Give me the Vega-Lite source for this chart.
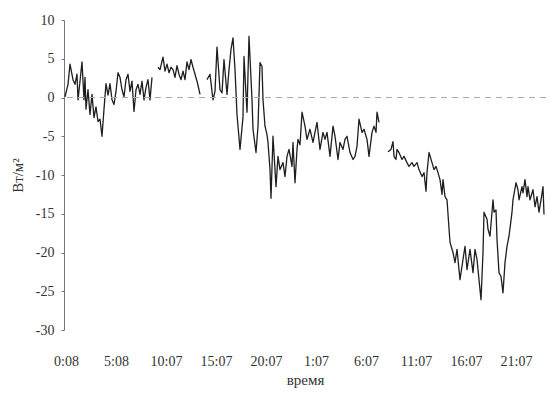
{
  "$schema": "https://vega.github.io/schema/vega-lite/v6.json",
  "width": 482,
  "height": 310,
  "autosize": {"type": "none"},
  "padding": {"left": 64, "top": 20, "right": 4, "bottom": 71},
  "background": "white",
  "config": {
    "view": {"stroke": null},
    "font": "Liberation Serif",
    "axis": {
      "labelFont": "Liberation Serif",
      "titleFont": "Liberation Serif",
      "labelFontSize": 14,
      "titleFontSize": 15,
      "titleFontWeight": "normal",
      "labelColor": "#333",
      "titleColor": "#333",
      "grid": false
    },
    "axisY": {
      "values": [-30, -25, -20, -15, -10, -5, 0, 5, 10],
      "labelExpr": "'' + datum.value",
      "labelOverlap": false,
      "domain": true,
      "domainColor": "#777",
      "tickColor": "#777",
      "tickSize": 3,
      "labelPadding": 7,
      "titlePadding": 10
    }
  },
  "data": {
    "values": [
      {"t": -0.1, "v": 0.1, "s": 1}, {"t": 0.2, "v": 1.7, "s": 1}, {"t": 0.4, "v": 4.3, "s": 1}, {"t": 0.7, "v": 2.3, "s": 1},
      {"t": 0.9, "v": 1.7, "s": 1}, {"t": 1.1, "v": 3.0, "s": 1}, {"t": 1.2, "v": -0.3, "s": 1}, {"t": 1.4, "v": 2.1, "s": 1},
      {"t": 1.6, "v": 4.6, "s": 1}, {"t": 1.8, "v": -0.3, "s": 1}, {"t": 1.9, "v": 2.6, "s": 1}, {"t": 2.0, "v": -1.5, "s": 1},
      {"t": 2.2, "v": 1.0, "s": 1}, {"t": 2.4, "v": -2.2, "s": 1}, {"t": 2.6, "v": 0.4, "s": 1}, {"t": 2.8, "v": -2.6, "s": 1},
      {"t": 3.0, "v": -1.2, "s": 1}, {"t": 3.2, "v": -3.1, "s": 1}, {"t": 3.4, "v": -2.8, "s": 1}, {"t": 3.6, "v": -5.0, "s": 1},
      {"t": 3.8, "v": -1.5, "s": 1}, {"t": 4.0, "v": 1.8, "s": 1}, {"t": 4.2, "v": 0.3, "s": 1}, {"t": 4.4, "v": 1.8, "s": 1},
      {"t": 4.6, "v": -0.3, "s": 1}, {"t": 4.8, "v": -0.9, "s": 1}, {"t": 5.0, "v": 0.8, "s": 1}, {"t": 5.2, "v": 3.2, "s": 1},
      {"t": 5.4, "v": 2.6, "s": 1}, {"t": 5.6, "v": 1.0, "s": 1}, {"t": 5.8, "v": 0.1, "s": 1}, {"t": 6.0, "v": 2.3, "s": 1},
      {"t": 6.2, "v": 3.0, "s": 1}, {"t": 6.4, "v": 0.8, "s": 1}, {"t": 6.6, "v": 2.1, "s": 1}, {"t": 6.8, "v": -1.8, "s": 1},
      {"t": 7.0, "v": 1.0, "s": 1}, {"t": 7.2, "v": 1.7, "s": 1}, {"t": 7.4, "v": 0.4, "s": 1}, {"t": 7.6, "v": 2.1, "s": 1},
      {"t": 7.8, "v": -0.3, "s": 1}, {"t": 8.0, "v": 1.3, "s": 1}, {"t": 8.2, "v": 2.3, "s": 1}, {"t": 8.4, "v": -0.3, "s": 1},
      {"t": 8.6, "v": 2.6, "s": 1},

      {"t": 9.2, "v": 3.9, "s": 2}, {"t": 9.4, "v": 3.6, "s": 2}, {"t": 9.7, "v": 5.2, "s": 2}, {"t": 9.9, "v": 3.4, "s": 2},
      {"t": 10.1, "v": 4.3, "s": 2}, {"t": 10.3, "v": 3.2, "s": 2}, {"t": 10.5, "v": 3.9, "s": 2}, {"t": 10.7, "v": 3.6, "s": 2},
      {"t": 10.9, "v": 2.6, "s": 2}, {"t": 11.1, "v": 4.1, "s": 2}, {"t": 11.3, "v": 3.0, "s": 2}, {"t": 11.5, "v": 2.3, "s": 2},
      {"t": 11.7, "v": 3.4, "s": 2}, {"t": 11.9, "v": 2.3, "s": 2}, {"t": 12.1, "v": 4.6, "s": 2}, {"t": 12.3, "v": 3.6, "s": 2},
      {"t": 12.5, "v": 4.9, "s": 2}, {"t": 12.7, "v": 3.9, "s": 2}, {"t": 12.9, "v": 3.0, "s": 2}, {"t": 13.1, "v": 2.1, "s": 2},
      {"t": 13.3, "v": 1.0, "s": 2}, {"t": 13.4, "v": 0.4, "s": 2},

      {"t": 14.1, "v": 2.3, "s": 3}, {"t": 14.4, "v": 3.0, "s": 3}, {"t": 14.7, "v": -0.3, "s": 3}, {"t": 14.9, "v": 0.8, "s": 3},
      {"t": 15.1, "v": 6.5, "s": 3}, {"t": 15.4, "v": 1.0, "s": 3}, {"t": 15.6, "v": 0.6, "s": 3}, {"t": 15.8, "v": 4.9, "s": 3},
      {"t": 16.1, "v": 0.4, "s": 3}, {"t": 16.3, "v": 3.6, "s": 3}, {"t": 16.5, "v": 6.2, "s": 3}, {"t": 16.7, "v": 7.7, "s": 3},
      {"t": 16.9, "v": 3.6, "s": 3}, {"t": 17.1, "v": -2.2, "s": 3}, {"t": 17.4, "v": -6.7, "s": 3}, {"t": 17.7, "v": -2.5, "s": 3},
      {"t": 17.8, "v": 5.3, "s": 3}, {"t": 18.0, "v": 0.4, "s": 3}, {"t": 18.1, "v": -1.9, "s": 3}, {"t": 18.3, "v": 7.9, "s": 3},
      {"t": 18.6, "v": -0.3, "s": 3}, {"t": 18.7, "v": -4.1, "s": 3}, {"t": 19.0, "v": -7.1, "s": 3}, {"t": 19.2, "v": -3.7, "s": 3},
      {"t": 19.4, "v": 4.5, "s": 3}, {"t": 19.6, "v": 4.0, "s": 3}, {"t": 19.7, "v": -0.3, "s": 3}, {"t": 19.9, "v": -3.7, "s": 3},
      {"t": 20.1, "v": -4.8, "s": 3}, {"t": 20.2, "v": -5.8, "s": 3}, {"t": 20.4, "v": -9.3, "s": 3}, {"t": 20.5, "v": -13.0, "s": 3},
      {"t": 20.7, "v": -5.0, "s": 3}, {"t": 21.0, "v": -11.5, "s": 3}, {"t": 21.2, "v": -7.6, "s": 3}, {"t": 21.4, "v": -9.3, "s": 3},
      {"t": 21.7, "v": -8.4, "s": 3}, {"t": 21.9, "v": -10.2, "s": 3}, {"t": 22.1, "v": -7.6, "s": 3}, {"t": 22.3, "v": -6.7, "s": 3},
      {"t": 22.6, "v": -8.9, "s": 3}, {"t": 22.7, "v": -5.8, "s": 3}, {"t": 22.9, "v": -11.0, "s": 3}, {"t": 23.1, "v": -6.7, "s": 3},
      {"t": 23.2, "v": -5.4, "s": 3}, {"t": 23.4, "v": -6.1, "s": 3}, {"t": 23.6, "v": -1.9, "s": 3}, {"t": 23.9, "v": -3.7, "s": 3},
      {"t": 24.1, "v": -5.4, "s": 3}, {"t": 24.4, "v": -4.1, "s": 3}, {"t": 24.7, "v": -5.8, "s": 3}, {"t": 24.9, "v": -4.5, "s": 3},
      {"t": 25.1, "v": -3.2, "s": 3}, {"t": 25.4, "v": -6.7, "s": 3}, {"t": 25.7, "v": -4.5, "s": 3}, {"t": 25.9, "v": -5.4, "s": 3},
      {"t": 26.1, "v": -4.5, "s": 3}, {"t": 26.4, "v": -7.6, "s": 3}, {"t": 26.7, "v": -3.7, "s": 3}, {"t": 26.9, "v": -5.0, "s": 3},
      {"t": 27.2, "v": -8.0, "s": 3}, {"t": 27.4, "v": -5.8, "s": 3}, {"t": 27.7, "v": -6.7, "s": 3}, {"t": 27.9, "v": -5.4, "s": 3},
      {"t": 28.1, "v": -5.0, "s": 3}, {"t": 28.4, "v": -7.1, "s": 3}, {"t": 28.7, "v": -8.0, "s": 3}, {"t": 28.9, "v": -7.6, "s": 3},
      {"t": 29.1, "v": -6.3, "s": 3}, {"t": 29.3, "v": -2.8, "s": 3}, {"t": 29.6, "v": -4.5, "s": 3}, {"t": 29.8, "v": -4.1, "s": 3},
      {"t": 30.1, "v": -5.4, "s": 3}, {"t": 30.3, "v": -7.6, "s": 3}, {"t": 30.6, "v": -4.5, "s": 3}, {"t": 30.8, "v": -3.7, "s": 3},
      {"t": 31.0, "v": -4.5, "s": 3}, {"t": 31.1, "v": -1.9, "s": 3}, {"t": 31.3, "v": -3.2, "s": 3},

      {"t": 32.2, "v": -7.0, "s": 4}, {"t": 32.5, "v": -6.7, "s": 4}, {"t": 32.7, "v": -5.7, "s": 4}, {"t": 32.8, "v": -7.6, "s": 4},
      {"t": 33.0, "v": -8.0, "s": 4}, {"t": 33.1, "v": -6.7, "s": 4}, {"t": 33.3, "v": -7.1, "s": 4}, {"t": 33.6, "v": -8.0, "s": 4},
      {"t": 33.8, "v": -7.6, "s": 4}, {"t": 34.1, "v": -8.4, "s": 4}, {"t": 34.3, "v": -8.9, "s": 4}, {"t": 34.6, "v": -8.4, "s": 4},
      {"t": 34.8, "v": -8.9, "s": 4}, {"t": 35.1, "v": -8.4, "s": 4}, {"t": 35.3, "v": -9.3, "s": 4}, {"t": 35.6, "v": -10.2, "s": 4},
      {"t": 35.8, "v": -9.7, "s": 4}, {"t": 36.0, "v": -12.1, "s": 4}, {"t": 36.1, "v": -9.7, "s": 4}, {"t": 36.3, "v": -7.1, "s": 4},
      {"t": 36.6, "v": -8.4, "s": 4}, {"t": 36.8, "v": -9.3, "s": 4}, {"t": 37.0, "v": -8.9, "s": 4}, {"t": 37.2, "v": -9.7, "s": 4},
      {"t": 37.4, "v": -10.6, "s": 4}, {"t": 37.6, "v": -12.5, "s": 4}, {"t": 37.7, "v": -10.6, "s": 4}, {"t": 37.9, "v": -12.8, "s": 4},
      {"t": 38.1, "v": -13.2, "s": 4}, {"t": 38.4, "v": -18.7, "s": 4}, {"t": 38.7, "v": -20.0, "s": 4}, {"t": 38.9, "v": -21.3, "s": 4},
      {"t": 39.1, "v": -19.6, "s": 4}, {"t": 39.4, "v": -23.5, "s": 4}, {"t": 39.7, "v": -20.9, "s": 4}, {"t": 39.9, "v": -19.2, "s": 4},
      {"t": 40.1, "v": -22.2, "s": 4}, {"t": 40.4, "v": -19.6, "s": 4}, {"t": 40.7, "v": -22.6, "s": 4}, {"t": 40.9, "v": -19.6, "s": 4},
      {"t": 41.1, "v": -20.9, "s": 4}, {"t": 41.3, "v": -23.5, "s": 4}, {"t": 41.5, "v": -26.1, "s": 4}, {"t": 41.7, "v": -20.0, "s": 4},
      {"t": 41.8, "v": -14.8, "s": 4}, {"t": 42.1, "v": -15.7, "s": 4}, {"t": 42.2, "v": -17.0, "s": 4}, {"t": 42.4, "v": -17.9, "s": 4},
      {"t": 42.7, "v": -13.2, "s": 4}, {"t": 42.8, "v": -14.8, "s": 4}, {"t": 43.0, "v": -14.5, "s": 4}, {"t": 43.1, "v": -18.3, "s": 4},
      {"t": 43.3, "v": -22.6, "s": 4}, {"t": 43.5, "v": -23.1, "s": 4}, {"t": 43.7, "v": -25.2, "s": 4}, {"t": 43.9, "v": -21.3, "s": 4},
      {"t": 44.1, "v": -19.2, "s": 4}, {"t": 44.3, "v": -17.9, "s": 4}, {"t": 44.6, "v": -14.8, "s": 4}, {"t": 44.7, "v": -13.2, "s": 4},
      {"t": 45.0, "v": -11.0, "s": 4}, {"t": 45.2, "v": -11.9, "s": 4}, {"t": 45.3, "v": -13.2, "s": 4}, {"t": 45.6, "v": -11.5, "s": 4},
      {"t": 45.7, "v": -12.3, "s": 4}, {"t": 45.9, "v": -10.6, "s": 4}, {"t": 46.1, "v": -12.8, "s": 4}, {"t": 46.2, "v": -11.5, "s": 4},
      {"t": 46.4, "v": -13.2, "s": 4}, {"t": 46.7, "v": -11.9, "s": 4}, {"t": 46.9, "v": -14.1, "s": 4}, {"t": 47.1, "v": -12.8, "s": 4},
      {"t": 47.3, "v": -14.8, "s": 4}, {"t": 47.5, "v": -13.2, "s": 4}, {"t": 47.7, "v": -11.5, "s": 4}, {"t": 47.8, "v": -15.1, "s": 4}
    ]
  },
  "layer": [
    {
      "mark": {"type": "line", "color": "#1e1e1e", "strokeWidth": 1.3, "strokeJoin": "round"},
      "encoding": {
        "x": {
          "field": "t",
          "type": "quantitative",
          "scale": {"domain": [-0.2, 48], "nice": false, "zero": false},
          "axis": {
            "title": "время",
            "values": [0, 5, 10, 15, 20, 25, 30, 35, 40, 45],
            "labelExpr": "['0:08','5:08','10:07','15:07','20:07','1:07','6:07','11:07','16:07','21:07'][round(datum.value / 5)]",
            "labelOverlap": false,
            "domain": false,
            "ticks": false,
            "labelPadding": 24,
            "titlePadding": 4
          }
        },
        "y": {
          "field": "v",
          "type": "quantitative",
          "scale": {"domain": [-30, 10], "nice": false},
          "axis": {"title": "Вт/м²"}
        },
        "detail": {"field": "s", "type": "nominal"}
      }
    },
    {
      "mark": {"type": "rule", "color": "#aaa", "strokeDash": [6, 5], "strokeWidth": 1},
      "encoding": {"y": {"datum": 0, "type": "quantitative", "axis": {"title": "Вт/м²"}}}
    }
  ]
}
